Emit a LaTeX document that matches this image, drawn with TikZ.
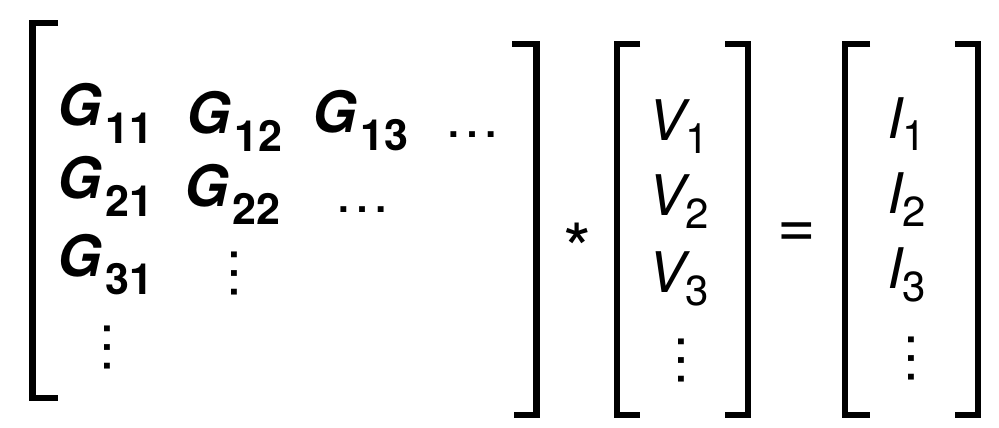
\documentclass[tikz,border=0pt]{standalone}
\usepackage{fontspec}
\setmainfont{TeX Gyre Heros}
\newcommand\gsb[1]{\kern4pt\raisebox{-18pt}{\fontsize{43}{43}\selectfont\upshape\bfseries #1}}
\newcommand\vsb[1]{\kern0pt\raisebox{-13pt}{\fontsize{42}{42}\selectfont\upshape\mdseries #1}}
\begin{document}
\begin{tikzpicture}[x=1pt,y=-1pt,
  br/.style={line width=6.5pt, line cap=butt, line join=miter},
  gent/.style={inner sep=0pt, anchor=base west, font=\fontsize{57}{60}\selectfont\bfseries\itshape},
  vent/.style={inner sep=0pt, anchor=base west, font=\fontsize{56}{60}\selectfont\itshape},
  hdots/.style={inner sep=0pt, anchor=base, font=\fontsize{56}{60}\selectfont},
  vdotsn/.style={inner sep=0pt, anchor=base, rotate=-90, font=\fontsize{56}{60}\selectfont},
  opsym/.style={inner sep=0pt, anchor=base}]
\useasboundingbox (0,0) rectangle (999,428);
% brackets
\draw[br] (58,23) -- (32.5,23) -- (32.5,398) -- (58,398);
\draw[br] (512,44) -- (536.5,44) -- (536.5,415) -- (514,415);
\draw[br] (640,44) -- (617,44) -- (617,415) -- (640,415);
\draw[br] (725,44) -- (748,44) -- (748,415) -- (725,415);
\draw[br] (870,44) -- (845,44) -- (845,415) -- (870,415);
\draw[br] (955,44) -- (978,44) -- (978,415) -- (955,415);
% G matrix
\node[gent] (g11) at (57,125) {G\gsb{11}};
\node[gent] (g12) at (186,133) {G\gsb{12}};
\node[gent] (g13) at (312,132) {G\gsb{13}};
\node[hdots] (d1) at (472,137) {…};
\node[gent] (g21) at (57,198) {G\gsb{21}};
\node[gent] (g22) at (184,206) {G\gsb{22}};
\node[hdots] (d2) at (362,212) {…};
\node[gent] (g31) at (57,276) {G\gsb{31}};
\node[vdotsn] (d3) at (231,273) {…};
\node[vdotsn] (d4) at (104,347) {…};
% operator
\node[opsym, font=\fontsize{72}{72}\selectfont] (ast) at (577,275) {*};
% V vector
\node[vent] (v1) at (648,140) {V\vsb{1}};
\node[vent] (v2) at (648,215) {V\vsb{2}};
\node[vent] (v3) at (648,292) {V\vsb{3}};
\node[vdotsn] (d5) at (678,360) {…};
% equals
\node[opsym, font=\fontsize{66}{66}\selectfont] (eq) at (797,247) {=};
% I vector
\node[vent] (i1) at (887,138) {I\vsb{1}};
\node[vent] (i2) at (887,213) {I\vsb{2}};
\node[vent] (i3) at (887,288) {I\vsb{3}};
\node[vdotsn] (d6) at (908,358) {…};
\end{tikzpicture}
\end{document}
